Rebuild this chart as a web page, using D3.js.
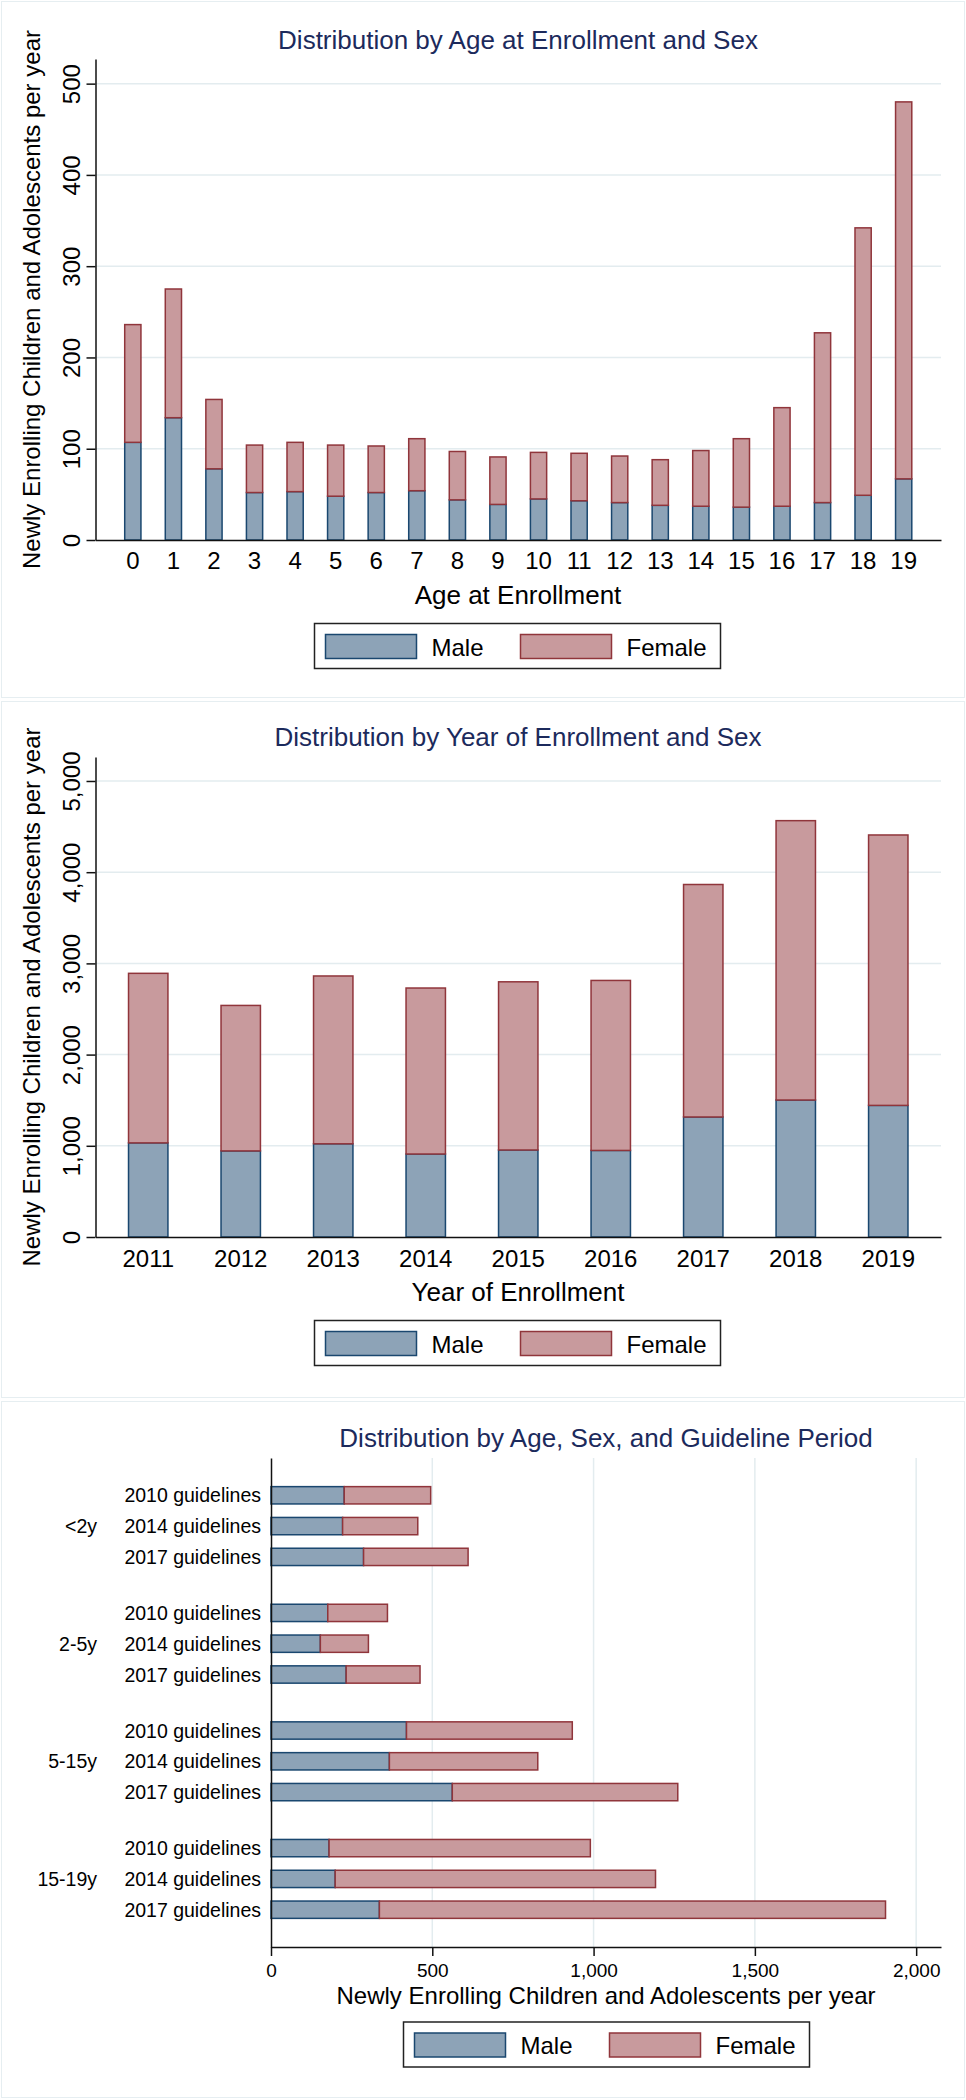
<!DOCTYPE html>
<html>
<head>
<meta charset="utf-8">
<script src="https://cdn.jsdelivr.net/npm/d3@7"></script>
<style>
  body { margin: 0; background: #fff; }
  svg text { font-family: "Liberation Sans", Arial, Helvetica, sans-serif; }
</style>
</head>
<body>
<div id="chart"></div>
<script>
// panel 1: age at enrollment
var ageLabels = ["0","1","2","3","4","5","6","7","8","9","10","11","12","13","14","15","16","17","18","19"];
var ageMale   = [107,134,78,52,53,48,52,54,44,39,45,43,41,38,37,36,37,41,49,67];
var ageFemale = [129,141,76,52,54,56,51,57,53,52,51,52,51,50,61,75,108,186,293,413];
var ageTicks  = [0,100,200,300,400,500];

// panel 2: year of enrollment
var yearLabels = ["2011","2012","2013","2014","2015","2016","2017","2018","2019"];
var yearMale   = [1032,944,1022,910,954,949,1316,1502,1443];
var yearFemale = [1859,1595,1840,1820,1844,1864,2549,3063,2965];
var yearTicks  = [0,1000,2000,3000,4000,5000];

// panel 3: age group x guideline period
var ageGroups   = ["<2y","2-5y","5-15y","15-19y"];
var periods     = ["2010 guidelines","2014 guidelines","2017 guidelines"];
var guideMale   = [227,222,287, 176,153,233, 420,367,562, 180,199,336];
var guideFemale = [268,233,324, 185,149,229, 514,460,699, 810,993,1569];
var guideTicks  = [0,500,1000,1500,2000];

var sexes = ["Male","Female"];
var fills = {Male: "#8da3b7", Female: "#c89a9d"};
var strokes = {Male: "#1a476f", Female: "#90353b"};
var titleColor = "#1c2a5c";
var gridColor = "#e3ecef";
var yTitle = "Newly Enrolling Children and Adolescents per year";

var svg = d3.select("#chart").append("svg")
    .attr("width", 966)
    .attr("height", 2100);

// panel frames
[0, 700, 1400].forEach(function (off) {
    svg.append("rect")
        .attr("x", 1.5).attr("y", off + 1.5)
        .attr("width", 963).attr("height", 696)
        .attr("fill", "none")
        .attr("stroke", "#e6eef1");
});

function legend(g, bx, by) {
    var lg = g.append("g").attr("transform", "translate(" + bx + "," + by + ")");
    lg.append("rect")
        .attr("width", 406).attr("height", 45)
        .attr("fill", "#fff").attr("stroke", "#222").attr("stroke-width", 1.5);
    sexes.forEach(function (s, i) {
        var ox = 11 + i * 195;
        lg.append("rect")
            .attr("x", ox).attr("y", 11)
            .attr("width", 91).attr("height", 24)
            .attr("fill", fills[s]).attr("stroke", strokes[s]).attr("stroke-width", 1.5);
        lg.append("text")
            .attr("x", ox + 106).attr("y", 32)
            .attr("font-size", 24)
            .text(s);
    });
}

function verticalPanel(off, opt) {
    var g = svg.append("g").attr("transform", "translate(0," + off + ")");
    var rows = opt.cats.map(function (c, i) {
        return {cat: c, Male: opt.male[i], Female: opt.female[i]};
    });

    var x = d3.scaleBand()
        .domain(opt.cats)
        .range([95.5, 941])
        .paddingInner(opt.pi)
        .paddingOuter(opt.po);
    var y = d3.scaleLinear()
        .domain([0, opt.yMax])
        .range([opt.y0, opt.yTop]);

    // gridlines
    g.selectAll(".grid")
        .data(opt.ticks.slice(1))
        .join("line")
        .attr("x1", 95.5).attr("x2", 941)
        .attr("y1", function (d) { return y(d); })
        .attr("y2", function (d) { return y(d); })
        .attr("stroke", gridColor).attr("stroke-width", 1.5);

    // stacked bars
    var series = d3.stack().keys(sexes)(rows);
    g.selectAll("g.series")
        .data(series)
        .join("g")
        .attr("fill", function (d) { return fills[d.key]; })
        .attr("stroke", function (d) { return strokes[d.key]; })
        .attr("stroke-width", 1.5)
        .selectAll("rect")
        .data(function (d) { return d; })
        .join("rect")
        .attr("x", function (d) { return x(d.data.cat); })
        .attr("width", x.bandwidth())
        .attr("y", function (d) { return y(d[1]); })
        .attr("height", function (d) { return y(d[0]) - y(d[1]); });

    // y axis
    var ya = g.append("g")
        .attr("transform", "translate(95.5,0)")
        .call(d3.axisLeft(y).tickValues(opt.ticks).tickSize(9).tickSizeOuter(0).tickFormat(opt.fmt));
    ya.select(".domain").attr("stroke", "#111").attr("stroke-width", 1.5);
    ya.selectAll(".tick line").attr("stroke", "#111").attr("stroke-width", 1.5);
    ya.selectAll(".tick text")
        .attr("transform", "rotate(-90)")
        .attr("x", 0).attr("y", -16).attr("dy", 0)
        .attr("text-anchor", "middle")
        .attr("font-size", 24)
        .attr("fill", "#000");

    // x axis
    var xa = g.append("g")
        .attr("transform", "translate(0," + opt.y0 + ")")
        .call(d3.axisBottom(x).tickSize(0).tickSizeOuter(0));
    xa.select(".domain").attr("stroke", "#111").attr("stroke-width", 1.5);
    xa.selectAll(".tick text")
        .attr("y", opt.tickGap).attr("dy", 0)
        .attr("font-size", 24)
        .attr("fill", "#000");

    // titles
    g.append("text")
        .attr("x", 518).attr("y", opt.titleY)
        .attr("text-anchor", "middle")
        .attr("font-size", 26)
        .attr("fill", titleColor)
        .text(opt.title);
    g.append("text")
        .attr("x", 518).attr("y", opt.xTitleY)
        .attr("text-anchor", "middle")
        .attr("font-size", 26)
        .text(opt.xTitle);
    g.append("text")
        .attr("transform", "translate(40," + ((opt.y0 + opt.yTop) / 2) + ") rotate(-90)")
        .attr("text-anchor", "middle")
        .attr("font-size", 24)
        .text(yTitle);

    legend(g, 314.5, opt.legendY);
}

verticalPanel(0, {
    cats: ageLabels, male: ageMale, female: ageFemale, ticks: ageTicks,
    pi: 0.6, po: 0.72, yMax: 527, y0: 540, yTop: 59, tickGap: 29,
    fmt: d3.format("d"),
    title: "Distribution by Age at Enrollment and Sex",
    titleY: 49, xTitle: "Age at Enrollment", xTitleY: 604, legendY: 623.5
});

verticalPanel(700, {
    cats: yearLabels, male: yearMale, female: yearFemale, ticks: yearTicks,
    pi: 0.574, po: 0.357, yMax: 5263, y0: 537, yTop: 57, tickGap: 30,
    fmt: d3.format(","),
    title: "Distribution by Year of Enrollment and Sex",
    titleY: 46, xTitle: "Year of Enrollment", xTitleY: 601, legendY: 620.5
});

// panel 3: horizontal stacked bars
(function () {
    var g = svg.append("g").attr("transform", "translate(0,1400)");
    var rows = guideMale.map(function (m, i) {
        return {
            group: ageGroups[Math.floor(i / periods.length)],
            period: periods[i % periods.length],
            Male: m,
            Female: guideFemale[i]
        };
    });

    var gy = d3.scaleBand().domain(ageGroups).range([58, 547])
        .paddingInner(0.329).paddingOuter(0.2435);
    var py = d3.scaleBand().domain(periods).range([0, gy.bandwidth()])
        .paddingInner(0.438);
    var x = d3.scaleLinear().domain([0, 2077]).range([271, 941]);

    g.selectAll(".grid")
        .data(guideTicks.slice(1))
        .join("line")
        .attr("x1", function (d) { return x(d); })
        .attr("x2", function (d) { return x(d); })
        .attr("y1", 58).attr("y2", 547)
        .attr("stroke", gridColor).attr("stroke-width", 1.5);

    var series = d3.stack().keys(sexes)(rows);
    g.selectAll("g.series")
        .data(series)
        .join("g")
        .attr("fill", function (d) { return fills[d.key]; })
        .attr("stroke", function (d) { return strokes[d.key]; })
        .attr("stroke-width", 1.5)
        .selectAll("rect")
        .data(function (d) { return d; })
        .join("rect")
        .attr("y", function (d) { return gy(d.data.group) + py(d.data.period); })
        .attr("height", py.bandwidth())
        .attr("x", function (d) { return x(d[0]); })
        .attr("width", function (d) { return x(d[1]) - x(d[0]); });

    // row labels
    g.selectAll(".plabel")
        .data(rows)
        .join("text")
        .attr("x", 261)
        .attr("y", function (d) { return gy(d.group) + py(d.period) + py.bandwidth() / 2; })
        .attr("dy", "0.36em")
        .attr("text-anchor", "end")
        .attr("font-size", 19.5)
        .text(function (d) { return d.period; });
    g.selectAll(".glabel")
        .data(ageGroups)
        .join("text")
        .attr("x", 97)
        .attr("y", function (d) { return gy(d) + gy.bandwidth() / 2; })
        .attr("dy", "0.36em")
        .attr("text-anchor", "end")
        .attr("font-size", 19.5)
        .text(function (d) { return d; });

    // axes
    var ya = g.append("g")
        .attr("transform", "translate(271,0)")
        .call(d3.axisLeft(gy).tickSize(0).tickSizeOuter(0).tickFormat(""));
    ya.select(".domain").attr("stroke", "#111").attr("stroke-width", 1.5);

    var xa = g.append("g")
        .attr("transform", "translate(0,547)")
        .call(d3.axisBottom(x).tickValues(guideTicks).tickSize(9).tickSizeOuter(0).tickFormat(d3.format(",")));
    xa.select(".domain").attr("stroke", "#111").attr("stroke-width", 1.5);
    xa.selectAll(".tick line").attr("stroke", "#111").attr("stroke-width", 1.5);
    xa.selectAll(".tick text")
        .attr("y", 30).attr("dy", 0)
        .attr("font-size", 19)
        .attr("fill", "#000");

    g.append("text")
        .attr("x", 606).attr("y", 47)
        .attr("text-anchor", "middle")
        .attr("font-size", 26)
        .attr("fill", titleColor)
        .text("Distribution by Age, Sex, and Guideline Period");
    g.append("text")
        .attr("x", 606).attr("y", 604)
        .attr("text-anchor", "middle")
        .attr("font-size", 24)
        .text(yTitle);

    legend(g, 403.5, 622);
})();
</script>
</body>
</html>
